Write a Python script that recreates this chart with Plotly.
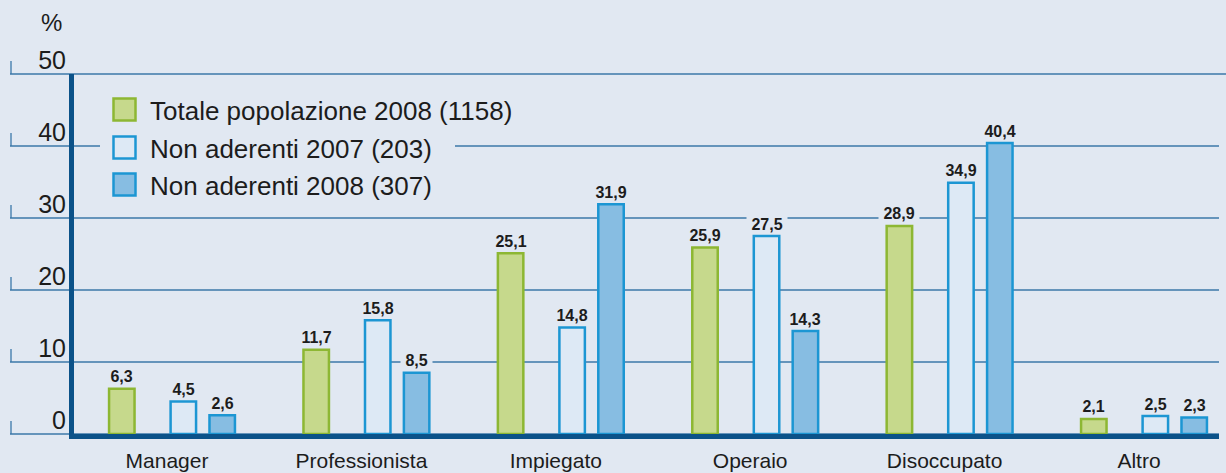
import plotly.graph_objects as go

# ---- data ----
categories = ["Manager", "Professionista", "Impiegato", "Operaio", "Disoccupato", "Altro"]
totale_pop_2008 = [6.3, 11.7, 25.1, 25.9, 28.9, 2.1]
non_aderenti_2007 = [4.5, 15.8, 14.8, 27.5, 34.9, 2.5]
non_aderenti_2008 = [2.6, 8.5, 31.9, 14.3, 40.4, 2.3]
series_names = ["Totale popolazione 2008 (1158)", "Non aderenti 2007 (203)", "Non aderenti 2008 (307)"]
y_ticks = [0, 10, 20, 30, 40, 50]
y_unit = "%"

# ---- style ----
W, H = 1226, 473
ML, MR, MT, MB = 74, 7, 74, 39
PW, PH = W - ML - MR, H - MT - MB
BG = "#e1e8f2"
GRID = "#3b78a9"
AXIS = "#0b5289"
TEXT = "#1c1c1c"
FONT = "Liberation Sans, Arial, sans-serif"
FONT_NARROW = "Liberation Sans Narrow, Arial Narrow, Liberation Sans, Arial, sans-serif"
fills = ["#c6d98c", "#dde9f5", "#87bde2"]
borders = ["#8db733", "#1c96d3", "#1c96d3"]
centers = [-0.2325, 0.084, 0.284]
bar_w = 0.131
x_range = [-0.4784, 5.4115]
y_range = [0, 50]


def px_x(p):
    return (p - ML) / PW


def px_y(p):
    return (H - MB - p) / PH


def val_to_paper(v):
    return (v - y_range[0]) / (y_range[1] - y_range[0])


def fmt(v):
    return f"{v:.1f}".replace(".", ",")


all_series = [totale_pop_2008, non_aderenti_2007, non_aderenti_2008]

fig = go.Figure()
for name, vals, fc, bc, c in zip(series_names, all_series, fills, borders, centers):
    fig.add_trace(go.Bar(
        x=categories, y=vals, name=name,
        width=bar_w, offset=c - bar_w / 2,
        marker=dict(color=fc, line=dict(color=bc, width=2.5)),
        showlegend=False, hoverinfo="x+y",
    ))

shapes = []
annotations = []
# gridlines (extending left of the axis) + small tick marks
for v in y_ticks:
    yp = val_to_paper(v)
    x1 = px_x(W) if v == y_ticks[-1] else 1
    shapes.append(dict(type="line", xref="paper", yref="paper", x0=px_x(10), x1=x1,
                       y0=yp, y1=yp, line=dict(color=GRID, width=1.3), layer="below"))
    shapes.append(dict(type="line", xref="paper", yref="paper", x0=px_x(11), x1=px_x(11),
                       y0=yp, y1=yp + 13 / PH, line=dict(color=GRID, width=1.3), layer="below"))

# gap in gridline behind legend
shapes.append(dict(type="rect", xref="paper", yref="paper", x0=px_x(100), x1=px_x(455),
                   y0=px_y(156), y1=px_y(139), fillcolor=BG, line=dict(width=0), layer="below"))

# custom legend
row_y = [109.5, 147.5, 184.5]
for name, fc, bc, ry in zip(series_names, fills, borders, row_y):
    shapes.append(dict(type="rect", xref="paper", yref="paper",
                       x0=px_x(113.5), x1=px_x(135.5), y0=px_y(ry + 11), y1=px_y(ry - 11),
                       fillcolor=fc, line=dict(color=bc, width=2.5), layer="below"))
    annotations.append(dict(xref="paper", yref="paper", x=px_x(148), y=px_y(ry + 1),
                            xanchor="left", yanchor="middle", text=name, showarrow=False,
                            font=dict(family=FONT, size=26, color=TEXT)))

# value labels
for vals, c in zip(all_series, centers):
    for i, v in enumerate(vals):
        annotations.append(dict(x=i + c, y=v, xref="x", yref="y", text="&nbsp;" + fmt(v) + "&nbsp;",
                                showarrow=False, yanchor="middle", yshift=12,
                                bgcolor=BG, borderpad=0,
                                font=dict(family=FONT_NARROW, size=16, color=TEXT, weight="bold")))

# unit label
annotations.append(dict(xref="paper", yref="paper", x=px_x(64), y=px_y(22), text=y_unit,
                        xanchor="right", yanchor="middle", showarrow=False,
                        font=dict(family=FONT, size=24, color=TEXT)))

fig.update_layout(
    width=W, height=H,
    margin=dict(l=ML, r=MR, t=MT, b=MB, pad=0, autoexpand=False),
    paper_bgcolor=BG, plot_bgcolor=BG,
    barmode="overlay",
    showlegend=False,
    shapes=shapes, annotations=annotations,
    xaxis=dict(type="category", range=x_range, showgrid=False, zeroline=False,
               showline=True, linewidth=4.5, linecolor=AXIS, ticks="",
               ticklabelstandoff=4, automargin=False,
               tickfont=dict(family=FONT, size=21, color=TEXT), fixedrange=True),
    yaxis=dict(range=y_range, tickvals=y_ticks, showgrid=False, zeroline=False,
               showline=True, linewidth=5, linecolor=AXIS, ticks="",
               ticklabelshift=-14, ticklabelstandoff=-2, automargin=False,
               tickfont=dict(family=FONT, size=25, color=TEXT), fixedrange=True),
)

fig.write_html("out.html", config={"displayModeBar": False},
               post_script="document.body.style.margin='0';document.body.style.overflow='hidden';")
